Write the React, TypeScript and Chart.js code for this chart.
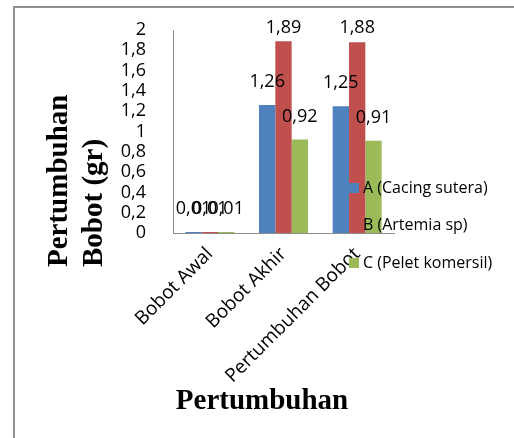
import React, { useEffect, useRef } from "react";
import { Chart, registerables } from "chart.js";

Chart.register(...registerables);

// Growth data (grams) per feed treatment
const categories = ["Bobot Awal", "Bobot Akhir", "Pertumbuhan Bobot"];
const seriesNames = ["A (Cacing sutera)", "B (Artemia sp)", "C (Pelet komersil)"];
const cacingSutera = [0.01, 1.26, 1.25];
const artemiaSp = [0.01, 1.89, 1.88];
const peletKomersil = [0.01, 0.92, 0.91];
const seriesColors = ["#4F81BD", "#C0504D", "#9BBB59"];

const yMin = 0;
const yMax = 2;
const yStep = 0.2;

const yTitleLines = ["Pertumbuhan", "Bobot (gr)"];
const xTitle = "Pertumbuhan";

const VALUE_FONT = '18px "Open Sans"';
const LEGEND_FONT = '16px "Open Sans"';
const TITLE_FONT = 'bold 29px "Liberation Serif"';

// Decimal comma formatting
const fmtTick = (v: number) => {
  const r = Math.round(v * 10) / 10;
  return Number.isInteger(r) ? String(r) : r.toFixed(1).replace(".", ",");
};
const fmtValue = (v: number) => v.toFixed(2).replace(".", ",");

const valueLabels = {
  id: "valueLabels",
  afterDatasetsDraw(chart: any) {
    const { ctx, chartArea } = chart;
    ctx.save();
    ctx.font = VALUE_FONT;
    ctx.fillStyle = "#000";
    ctx.textAlign = "center";
    ctx.textBaseline = "alphabetic";
    chart.data.datasets.forEach((ds: any, i: number) => {
      const meta = chart.getDatasetMeta(i);
      meta.data.forEach((bar: any, j: number) => {
        const y = Math.max(bar.y - 18, chartArea.top + 3);
        ctx.fillText(fmtValue(ds.data[j]), bar.x, y);
      });
    });
    ctx.restore();
  },
};

const titlesAndLegend = {
  id: "titlesAndLegend",
  afterDraw(chart: any) {
    const { ctx, chartArea } = chart;
    ctx.save();

    // Axis titles
    ctx.font = TITLE_FONT;
    ctx.fillStyle = "#000";
    ctx.textBaseline = "alphabetic";
    ctx.textAlign = "left";
    const yTitleStart = chartArea.bottom + 34;
    yTitleLines.forEach((line, i) => {
      ctx.save();
      ctx.translate(chartArea.left - 106 + i * 35, yTitleStart);
      ctx.rotate(-Math.PI / 2);
      ctx.fillText(line, 0, 0);
      ctx.restore();
    });
    ctx.textAlign = "center";
    ctx.fillText(xTitle, chartArea.left + 89, chartArea.bottom + 176);

    // Legend
    ctx.font = LEGEND_FONT;
    ctx.textAlign = "left";
    ctx.textBaseline = "middle";
    const markerX = chartArea.right - 40;
    chart.data.datasets.forEach((ds: any, i: number) => {
      const cy = chartArea.top + 158 + i * 37.5;
      ctx.fillStyle = ds.backgroundColor;
      ctx.fillRect(markerX - 5, cy - 5, 10, 10);
      ctx.fillStyle = "#000";
      ctx.fillText(ds.label, markerX + 9, cy);
    });
    ctx.restore();
  },
};

export default function App() {
  const canvasRef = useRef<HTMLCanvasElement | null>(null);

  useEffect(() => {
    if (!canvasRef.current) return;
    const seriesValues = [cacingSutera, artemiaSp, peletKomersil];
    const chart = new Chart(canvasRef.current, {
      type: "bar",
      data: {
        labels: categories,
        datasets: seriesNames.map((name, i) => ({
          label: name,
          data: seriesValues[i],
          backgroundColor: seriesColors[i],
          borderWidth: 0,
          categoryPercentage: 0.665,
          barPercentage: 1,
        })),
      },
      options: {
        animation: false,
        responsive: false,
        devicePixelRatio: 1,
        layout: { padding: { left: 0, top: 30, right: 120, bottom: 0 } },
        plugins: {
          legend: { display: false },
          tooltip: { enabled: false },
          title: { display: false },
        },
        scales: {
          x: {
            grid: { display: false },
            border: { display: true, color: "#8C8C8C", width: 1 },
            ticks: {
              color: "#000",
              font: { family: "Open Sans", size: 19 },
              minRotation: 45,
              maxRotation: 45,
              padding: 2,
              autoSkip: false,
            },
            afterFit: (scale: any) => {
              scale.height = 205;
            },
          },
          y: {
            min: yMin,
            max: yMax,
            grid: { display: false },
            border: { display: true, color: "#8C8C8C", width: 1 },
            ticks: {
              stepSize: yStep,
              autoSkip: false,
              color: "#000",
              font: { family: "Open Sans", size: 18 },
              padding: 19,
              callback: (v: any) => fmtTick(Number(v)),
            },
            afterFit: (scale: any) => {
              scale.width = 173;
            },
          },
        },
      },
      plugins: [valueLabels, titlesAndLegend],
    });
    return () => chart.destroy();
  }, []);

  return (
    <div
      style={{
        position: "fixed",
        left: 0,
        top: 0,
        width: 514,
        height: 438,
        overflow: "hidden",
        background: "#fff",
      }}
    >
      <div
        style={{
          position: "absolute",
          left: 13,
          top: 6,
          width: 700,
          height: 700,
          border: "2px solid #8E8E8E",
        }}
      />
      <canvas
        ref={canvasRef}
        width={514}
        height={438}
        style={{ position: "absolute", left: 0, top: 0 }}
      />
    </div>
  );
}
